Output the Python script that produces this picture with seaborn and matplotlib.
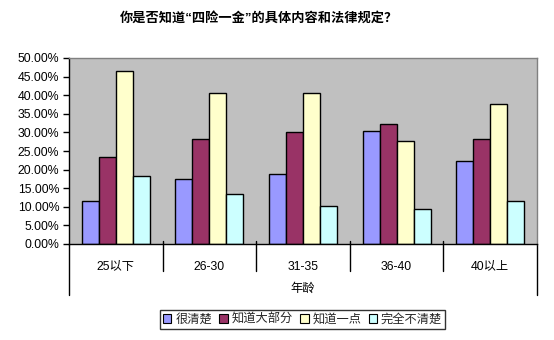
import matplotlib
matplotlib.use("Agg")
import matplotlib.pyplot as plt
import matplotlib.transforms as mtransforms
from matplotlib.patches import Patch
from matplotlib.ticker import FuncFormatter, MultipleLocator
import pandas as pd
import seaborn as sns

# Survey data: awareness of "四险一金" by age group
ages = ["25以下", "26-30", "31-35", "36-40", "40以上"]
levels = ["很清楚", "知道大部分", "知道一点", "完全不清楚"]
very_clear = [11.5, 17.4, 18.7, 30.4, 22.2]
know_most = [23.3, 28.1, 30.0, 32.2, 28.1]
know_little = [46.4, 40.5, 40.5, 27.6, 37.6]
not_at_all = [18.2, 13.4, 10.1, 9.3, 11.5]
colors = ["#9999FF", "#993366", "#FFFFCC", "#CCFFFF"]

series = [very_clear, know_most, know_little, not_at_all]
rows = []
for lvl, vals in zip(levels, series):
    for age, v in zip(ages, vals):
        rows.append({"年龄": age, "比例": v / 100.0, "程度": lvl})
df = pd.DataFrame(rows)

sns.set_theme(style="white")
plt.rcParams["font.family"] = ["Liberation Sans", "Noto Sans CJK SC", "DejaVu Sans"]

fig = plt.figure(figsize=(5.54, 3.40), dpi=100)
fig.patch.set_facecolor("white")
ax = fig.add_axes([69 / 554, 1 - 244 / 340, (537 - 69) / 554, (244 - 58) / 340])
ax.set_facecolor("#C0C0C0")

sns.barplot(data=df, x="年龄", y="比例", hue="程度", order=ages, hue_order=levels,
            palette=colors, edgecolor="black", linewidth=1.0, width=0.727,
            saturation=1, ax=ax, legend=False)

ax.set_xlim(-0.5, len(ages) - 0.5)
ax.set_ylim(0, 0.5)
ax.yaxis.set_major_locator(MultipleLocator(0.05))
ax.yaxis.set_major_formatter(FuncFormatter(lambda v, p: f"{v * 100:.2f}%"))
ax.tick_params(axis="y", which="major", left=True, length=4, width=1,
               color="black", labelsize=8.8, pad=3, labelcolor="black")
ax.tick_params(axis="x", which="major", bottom=False, length=0, labelsize=8.8,
               pad=12, labelcolor="black")
ax.set_xlabel("")
ax.set_ylabel("")
ax.grid(False)

for side in ["left", "bottom"]:
    ax.spines[side].set_color("black")
    ax.spines[side].set_linewidth(1.0)
for side in ["top", "right"]:
    ax.spines[side].set_color("#808080")
    ax.spines[side].set_linewidth(1.0)

# Multi-level category separators below the x axis
trans = mtransforms.blended_transform_factory(ax.transData, ax.transAxes)
h = 186.0
for i in range(1, len(ages)):
    ax.plot([i - 0.5, i - 0.5], [3 / h, -27 / h], color="black", lw=1.0,
            transform=trans, clip_on=False)
for xb in [-0.5, len(ages) - 0.5]:
    ax.plot([xb, xb], [0, -51 / h], color="black", lw=1.0,
            transform=trans, clip_on=False)

ax.text(0.5, -45 / h, "年龄", transform=ax.transAxes, ha="center", va="center",
        fontsize=8.8, color="black")

fig.text(259 / 554, 1 - 18 / 340, "你是否知道“四险一金”的具体内容和法律规定？",
         ha="center", va="center", fontsize=9.5, fontweight="bold", color="black")

handles = [Patch(facecolor=c, edgecolor="black", linewidth=0.8) for c in colors]
leg = fig.legend(handles, levels, loc="center", bbox_to_anchor=(302.5 / 554, 1 - 319.5 / 340),
                 ncol=4, fontsize=8.8, frameon=True, fancybox=False, handlelength=0.7,
                 handleheight=0.7, handletextpad=0.3, columnspacing=0.6,
                 borderpad=0.25, borderaxespad=0)
leg.get_frame().set_edgecolor("black")
leg.get_frame().set_linewidth(1.0)

fig.savefig("out.png", dpi=100, facecolor="white")
